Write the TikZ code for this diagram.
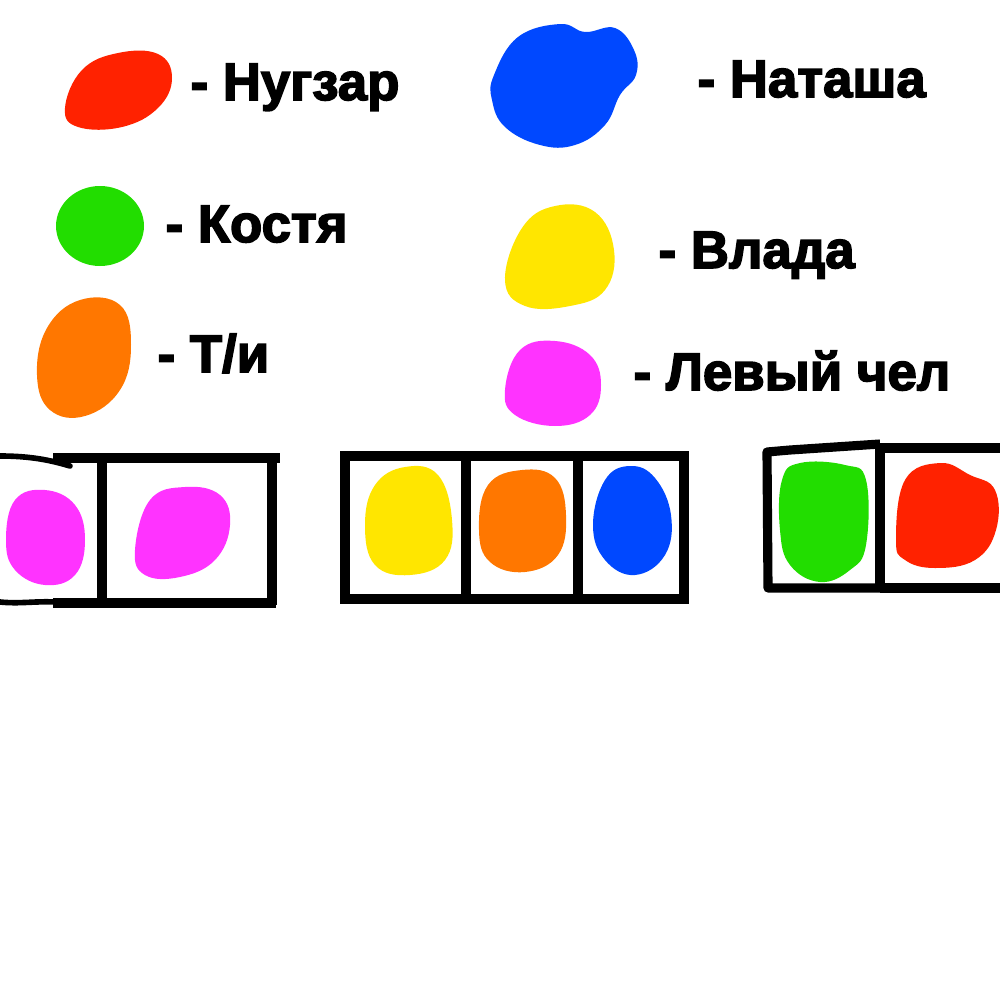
\documentclass[tikz,border=0pt]{standalone}
\usepackage{fontspec}
\newfontfamily\lab[FakeBold=3]{Liberation Sans Bold}
\definecolor{nred}{HTML}{FF2200}
\definecolor{nblue}{HTML}{0048FF}
\definecolor{ngreen}{HTML}{22DD00}
\definecolor{nyellow}{HTML}{FFE600}
\definecolor{norange}{HTML}{FF7700}
\definecolor{npink}{HTML}{FF33FF}
\tikzset{
	who/.style={anchor=base west, inner sep=0pt, font=\lab\fontsize{15pt}{18pt}\selectfont},
	cell/.style={line width=2.6pt},
	hand/.style={line width=1.6pt, line cap=round},
	blob/.style={smooth cycle, tension=0.7}
}
\begin{document}
\begin{tikzpicture}[x=0.01cm, y=-0.01cm]
	\useasboundingbox (0,0) rectangle (1000,1000);
	% legend
	\fill[nred] plot[blob] coordinates {(65,108) (82,70) (118,53) (158,54) (172,78) (158,108) (122,127) (78,127)};
	\fill[nblue] plot[blob] coordinates {(494,75) (518,37) (560,24) (585,32) (615,28) (634,50) (636,75) (620,95) (605,125) (575,145) (540,145) (505,127) (492,100)};
	\fill[ngreen] (100,226) ellipse (44 and 40);
	\fill[nyellow] plot[blob] coordinates {(505,280) (522,228) (555,206) (595,212) (614,250) (605,290) (570,306) (525,306)};
	\fill[norange] plot[blob] coordinates {(37,375) (47,328) (80,300) (120,305) (131,345) (120,390) (85,416) (50,410)};
	\fill[npink] plot[blob] coordinates {(505,390) (520,350) (555,341) (590,355) (601,385) (590,415) (555,426) (515,415)};
	\node[who] at (190,100) (nugzar) {- Нугзар};
	\node[who] at (697,97) (natasha) {- Наташа};
	\node[who] at (165,242) (kostya) {- Костя};
	\node[who] at (658,268) (vlada) {- Влада};
	\node[who] at (157,372) (ti) {- Т/и};
	\node[who] at (633,390) (levy) {- Левый чел};
	% left row
	\draw[hand] (0,456) .. controls (30,456) and (50,460) .. (70,466);
	\draw[hand] (0,602) .. controls (20,604) and (35,601) .. (55,602);
	\path[cell] (53,458) edge (280,458)
	(53,603) edge (276,603)
	(102,455) edge (102,607)
	(272,455) edge (272,605);
	\fill[npink] plot[blob] coordinates {(6,540) (15,500) (45,490) (75,505) (85,540) (75,575) (45,585) (15,570)};
	\fill[npink] plot[blob] coordinates {(135,550) (150,500) (185,487) (220,495) (230,525) (215,560) (180,577) (145,575)};
	% middle row
	\draw[cell] (345,456) rectangle (684,599);
	\path[cell] (466,454) edge (466,602)
	(578,454) edge (578,602);
	\fill[nyellow] plot[blob] coordinates {(365,525) (375,485) (405,467) (438,475) (452,520) (445,560) (410,575) (375,565)};
	\fill[norange] plot[blob] coordinates {(479,530) (488,485) (522,470) (555,478) (566,515) (558,555) (525,572) (490,562)};
	\fill[nblue] plot[blob] coordinates {(593,525) (605,480) (630,466) (655,478) (671,515) (665,555) (635,575) (605,560)};
	% right row
	\draw[cell, line join=round] (880,444) -- (790,450) -- (767,452) -- (768,588) -- (880,588);
	\path[cell] (880,443) edge (880,591)
	(880,448) edge (1000,448)
	(880,588) edge (1000,588);
	\fill[ngreen] plot[blob] coordinates {(782,480) (800,463) (845,465) (866,480) (866,545) (850,570) (820,582) (790,565) (780,530)};
	\fill[nred] plot[blob] coordinates {(896,540) (905,480) (940,463) (970,475) (995,490) (996,530) (975,560) (935,568) (905,560)};
\end{tikzpicture}
\end{document}
